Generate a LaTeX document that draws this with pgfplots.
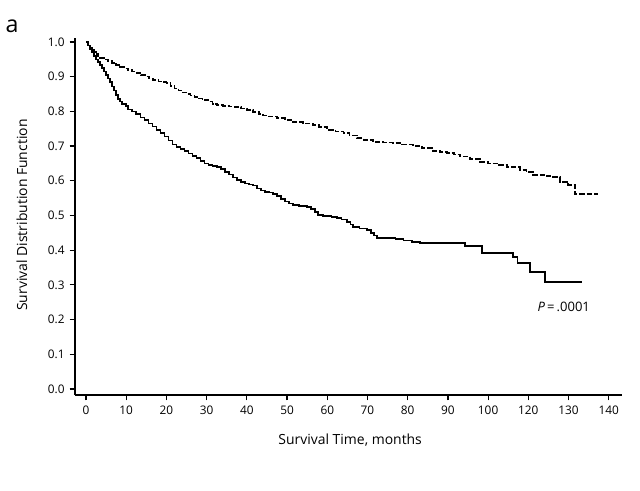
\documentclass[border=0pt]{standalone}
\usepackage{pgfplots}
\pgfplotsset{compat=1.18}
\usepackage{fontspec}
\setmainfont{Open Sans}
\begin{document}
\begin{tikzpicture}[x=1bp,y=1bp]
\path[use as bounding box] (0,0) rectangle (480,367.5);
\node[anchor=center,font=\fontsize{17.5}{20}\selectfont] at (9,347.5) {a};
\begin{axis}[
  at={(56.25bp,71.25bp)}, anchor=south west,
  scale only axis, width=410.25bp, height=267.75bp,
  xmin=-2.74, xmax=133.3, ymin=-0.0173, ymax=1.0115,
  axis x line*=bottom, axis y line*=left,
  axis line style={line width=0.9bp,-},
  xtick={0,10,...,130},
  xticklabels={0,10,20,30,40,50,60,70,80,90,100,120,130,140},
  ytick={0,0.1,...,1.0},
  tick align=outside, major tick length=4bp,
  tick style={black,line width=0.9bp},
  /pgf/number format/assume math mode=true,
  yticklabel style={/pgf/number format/fixed,/pgf/number format/fixed zerofill,/pgf/number format/precision=1,xshift=-0.3bp},
  ticklabel style={font=\fontsize{8.9}{10}\selectfont},
  xticklabel style={yshift=-1bp},
  xlabel={Survival Time, months},
  ylabel={Survival Distribution Function},
  label style={font=\fontsize{10.5}{12}\selectfont},
  xlabel style={at={(axis description cs:0.503,-0.126)},anchor=center},
  ylabel style={at={(axis description cs:-0.097,0.504)},anchor=center},
  clip=false,
]
\addplot[const plot, black, line width=1.2bp] coordinates {
(0,1.000) (0.5,0.990) (1,0.980) (1.5,0.970) (2,0.960) (2.5,0.950) (3,0.942) (3.5,0.934)
(4,0.925) (4.5,0.915) (5,0.905) (5.5,0.895) (6,0.884) (6.5,0.872) (7,0.860) (7.5,0.848)
(8,0.836) (8.5,0.828) (9,0.822) (10,0.815) (10.5,0.806) (11.5,0.800) (12.5,0.792)
(13.5,0.782) (14.5,0.775) (15.5,0.765) (16.5,0.756) (17.5,0.747) (18.5,0.738) (19.5,0.728)
(20.5,0.716) (21.5,0.705) (22.5,0.698) (23.5,0.692) (24.5,0.686) (25.5,0.679) (26.5,0.672)
(27.5,0.665) (28.5,0.657) (29.5,0.650) (30.5,0.646) (31.5,0.643) (32.5,0.640) (33.5,0.634)
(34.5,0.626) (35.5,0.618) (36.5,0.610) (37.5,0.602) (38.5,0.596) (39.5,0.592) (40.5,0.589)
(41.5,0.586) (42.5,0.578) (43.5,0.572) (44.5,0.568) (45.5,0.566) (46.5,0.562) (47.5,0.556)
(48.5,0.547) (49.5,0.540) (50.5,0.535) (51.5,0.530) (53,0.528) (55,0.525) (56,0.518)
(57,0.510) (57.7,0.501) (59,0.498) (61,0.496) (62.4,0.493) (63.5,0.488) (64.9,0.481)
(65.8,0.474) (66.4,0.467) (68,0.462) (69.9,0.458) (70.8,0.450) (71.6,0.442) (72.4,0.435)
(77,0.432) (79,0.428) (81,0.424) (83,0.421) (94.3,0.412) (98.5,0.392) (106.2,0.380)
(107.3,0.363) (110.4,0.337) (114.2,0.308) (123.4,0.308)
};
\addplot[const plot, black, line width=1.2bp, dash pattern=on 4bp off 1.5bp] coordinates {
(0,1.000) (0.5,0.992) (1,0.984) (1.5,0.978) (2,0.972) (2.5,0.966) (3,0.960) (3.5,0.954)
(4.5,0.950) (5.5,0.945) (6.5,0.940) (7.5,0.934) (8.5,0.928) (9.5,0.924) (10.5,0.919)
(11.5,0.915) (12.7,0.910) (13.7,0.905) (14.7,0.900) (15.7,0.895) (16.7,0.890) (18,0.886)
(19,0.884) (20,0.882) (21,0.874) (22,0.866) (23,0.860) (24,0.855) (25,0.850) (26,0.846)
(27,0.842) (28,0.837) (29,0.833) (30.5,0.828) (31.5,0.822) (32.6,0.818) (34,0.816)
(35.5,0.814) (37,0.812) (38.5,0.808) (40,0.804) (41.5,0.799) (43,0.792) (44,0.788)
(45.5,0.785) (47.5,0.781) (49.5,0.775) (51.5,0.769) (54,0.765) (56.5,0.761) (58,0.755)
(60,0.747) (62,0.742) (64,0.738) (65.5,0.731) (67.4,0.723) (69,0.718) (71.4,0.712)
(74,0.710) (76.4,0.709) (78.5,0.705) (81.3,0.700) (83.5,0.694) (86.3,0.686) (88,0.683)
(89.8,0.680) (91.5,0.676) (93,0.670) (95.5,0.663) (98,0.655) (100,0.650) (102.5,0.645)
(104.7,0.640) (108,0.631) (109.5,0.625) (111.2,0.617) (114,0.614) (116.2,0.611)
(117.9,0.597) (119.9,0.588) (121.6,0.562) (127.4,0.562)
};
\node[font=\fontsize{9.8}{11}\selectfont] at (axis cs:118.8,0.236) {\textit{P}\,=\,.0001};
\end{axis}
\end{tikzpicture}
\end{document}
